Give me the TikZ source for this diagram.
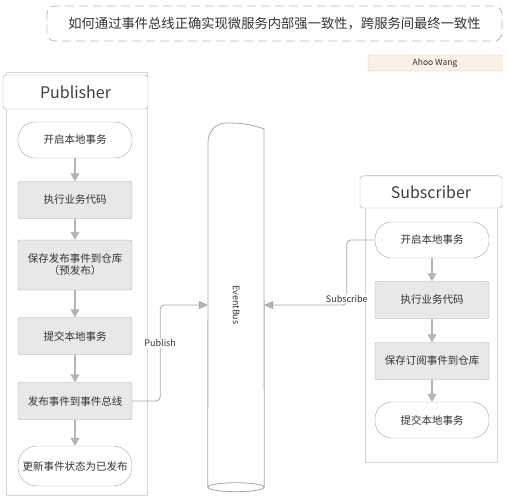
\documentclass[tikz,border=0pt]{standalone}
\usepackage{fontspec}
\setmainfont{Noto Sans CJK SC}
\usetikzlibrary{arrows.meta,positioning}

\definecolor{linegray}{HTML}{A6A6A6}
\definecolor{arrowgray}{HTML}{B4B4B4}
\definecolor{boxgray}{HTML}{E8E8E8}
\definecolor{lanegray}{HTML}{D6D6D6}
\definecolor{tagfill}{HTML}{FAF0E6}
\definecolor{tagline}{HTML}{DCC6AE}

\begin{document}
\begin{tikzpicture}[x=1pt,y=-1pt,node distance=65pt,on grid,
    every node/.style={font=\fontsize{10.5}{12}\selectfont,text=black!80},
    startend/.style={draw=linegray,rounded corners=17pt,fill=white,minimum width=114pt,minimum height=36pt,align=center},
    task/.style={draw=linegray,fill=boxgray,rounded corners=2pt,minimum width=114pt,minimum height=37pt,align=center},
    lanehead/.style={draw=linegray,fill=white,rounded corners=3pt,font=\fontsize{16}{18}\selectfont,text=black!75},
    flow/.style={draw=arrowgray,line width=1.2pt,-{Triangle[width=9pt,length=8pt]}},
    link/.style={draw=linegray,line width=0.8pt,rounded corners=4pt,-{Triangle[width=8pt,length=9pt,fill=arrowgray]}},
    tag/.style={font=\fontsize{9}{10}\selectfont,fill=white,inner sep=1pt}]
    \useasboundingbox (0,0) rectangle (508,501);

    % title and author
    \node[draw=tagline!80!gray,dashed,dash pattern=on 9pt off 5pt,rounded corners=8pt,line width=0.8pt,
      minimum width=455pt,minimum height=35pt,font=\fontsize{13.3}{15}\selectfont] (title) at (274.5,23.5)
      {如何通过事件总线正确实现微服务内部强一致性，跨服务间最终一致性};
    \node[draw=tagline,fill=tagfill,rounded corners=1pt,minimum width=134pt,minimum height=16pt,
      font=\fontsize{8.5}{10}\selectfont] (author) at (435,63) {Ahoo Wang};

    % publisher lane
    \draw[lanegray] (6,72) rectangle (147,495);
    \node[lanehead,minimum width=145pt,minimum height=34pt] (publisher) at (75.5,92) {Publisher};
    \node[startend] (p1) at (75,140) {开启本地事务};
    \node[task, below=60pt of p1] (p2) {执行业务代码};
    \node[task, below=of p2, minimum height=50pt] (p3) {保存发布事件到仓库\\（预发布）};
    \node[task, below=71pt of p3] (p4) {提交本地事务};
    \node[task, below=of p4] (p5) {发布事件到事件总线};
    \node[startend, below=of p5, minimum height=40pt, rounded corners=19pt] (p6) {更新事件状态为已发布};
    \draw[flow] (p1) -- (p2);
    \draw[flow] (p2) -- (p3);
    \draw[flow] (p3) -- (p4);
    \draw[flow] (p4) -- (p5);
    \draw[flow] (p5) -- (p6);

    % event bus
    \node[minimum width=56pt,minimum height=364pt] (bus) at (236,305) {};
    \draw[linegray,line width=0.8pt] (bus.south west) -- (208,142) to[out=90,in=180] (226,123)
      to[out=0,in=160] (264,129) -- (bus.south east);
    \draw[linegray,line width=0.8pt] (bus.south) ellipse[x radius=28pt,y radius=4.5pt];
    \node[rotate=-90,font=\fontsize{9}{10}\selectfont] (busname) at (bus.center) {EventBus};

    % subscriber lane
    \draw[lanegray] (365,175) rectangle (497,462);
    \node[lanehead,minimum width=142pt,minimum height=32pt] (subscriber) at (431,192) {Subscriber};
    \node[startend] (s1) at (432,240) {开启本地事务};
    \node[task, below=60pt of s1] (s2) {执行业务代码};
    \node[task, below=61pt of s2] (s3) {保存订阅事件到仓库};
    \node[startend, below=59pt of s3] (s4) {提交本地事务};
    \draw[flow] (s1) -- (s2);
    \draw[flow] (s2) -- (s3);
    \draw[flow] (s3) -- (s4);

    % publish / subscribe
    \draw[link] (p5.east) -- ++(28,0) |- node[tag,pos=0.3] (pubtag) {Publish} (bus.west);
    \draw[link] (s1.west) -- ++(-28,0) |- node[tag,pos=0.45] (subtag) {Subscribe} (bus.east);
\end{tikzpicture}
\end{document}
